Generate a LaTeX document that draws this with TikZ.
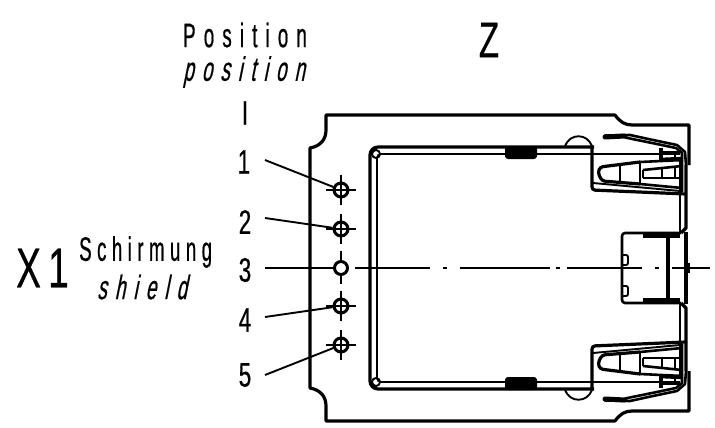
\documentclass[tikz,border=0pt]{standalone}
\usepackage{fontspec}
\newfontfamily\isofont[FakeStretch=0.55,LetterSpace=24,FakeBold=0.5]{Liberation Sans}
\newfontfamily\isotight[FakeStretch=0.55,LetterSpace=16,FakeBold=0.5]{Liberation Sans}
\newfontfamily\isodigit[FakeStretch=0.66,FakeBold=0.5]{Liberation Sans}
\newfontfamily\isoslant[FakeStretch=0.55,FakeSlant=0.2,LetterSpace=24,FakeBold=0.5]{Liberation Sans}
\newcommand{\fs}[1]{\fontsize{#1}{#1}\selectfont}
\tikzset{
  heavy/.style={line width=3.2pt,line join=round},
  mid/.style={line width=2.6pt,line join=round},
  fine/.style={line width=1.9pt,line join=round},
  leader/.style={line width=1.9pt},
  axis/.style={line width=1.8pt},
  hole/.style={circle,draw,line width=3pt,minimum size=14pt,inner sep=0pt},
  lab/.style={inner sep=0pt,font=\isodigit\fs{34}},
  half/.pic={
    % outer contour
    \draw[heavy] (310,268) -- (310,148) .. controls (321,146) and (326,139) .. (326,130) -- (326,115) -- (615,115) .. controls (620,122) and (625,125) .. (632,125) -- (689,125) -- (689,165);
    % frame
    \draw[heavy,rounded corners=8pt] (370,268) -- (370,147) -- (594,147);
    \draw[fine,rounded corners=4pt] (377,268) -- (377,154) -- (680,154);
    \draw[fine] (376,154) circle (4);
    \draw[line width=2.6pt] (371,155) .. controls (371,152) and (373,149) .. (376,149);
    % tab
    \fill[rounded corners=3pt] (505,146) rectangle (537,159);
    % semicircle
    \draw[fine] (565,146) .. controls (570,133) and (587,133) .. (592,146);
    % latch housing
    \draw[heavy,rounded corners=3pt] (592,146) -- (592,190) -- (686,194);
    \draw[fine] (593,183) -- (680,191);
    % spring finger
    \draw[line width=5pt,line cap=round] (605,137) -- (625,136);
    \draw[mid,line cap=round] (605,135.5) -- (630,135) -- (653,140) -- (677,145) -- (685,152) -- (686,165);
    \draw[mid] (625,137.5) -- (652,143) -- (676,148) -- (682,153) -- (682,192);
    % catch
    \draw[mid] (640,162) -- (683,160);
    \draw[heavy,rounded corners=3pt] (640,162) -- (600,167) -- (598,173) -- (602,181) -- (640,184);
    \draw[mid] (640,184) -- (682,188);
    \draw[fine] (620,165) -- (620,183);
    \draw[mid] (640,162) -- (640,185);
    \draw[mid] (643,170) -- (682,166);
    \draw[mid] (643,178) -- (682,178);
    \draw[fine] (643,170) -- (643,178);
    \draw[fine] (662,168) -- (662,178);
    \draw[fine] (675,167) -- (675,178);
    % box above the catch
    \draw[heavy] (661,148) -- (661,160);
    \draw[fine] (661,152) -- (680,152);
    \draw[mid] (661,159) -- (683,158);
    \draw[fine] (675,152) -- (675,158);
    % right walls
    \draw[heavy] (686,165) -- (686,228) -- (681,233);
    \draw[heavy] (686,232) -- (686,268);
    \draw[fine] (680,160) -- (680,232);
    % cap
    \draw[mid,rounded corners=3pt] (681,233) -- (622,233) -- (622,268);
    \draw[line width=3.6pt] (643,236) -- (680,236);
    \draw[heavy] (668,237) -- (668,268);
  }
}
\begin{document}
\begin{tikzpicture}[x=1pt,y=-1pt]
\useasboundingbox (0,0) rectangle (715,428);
\fill[white] (0,0) rectangle (715,428);
\pic at (0,0) {half};
\pic[yscale=-1] at (0,536) {half};
% bumps of the cap
\draw[fine,rounded corners=2pt] (622,255) -- (628,255) -- (628,265) -- (622,265);
\draw[fine,rounded corners=2pt] (622,286) -- (628,286) -- (628,296) -- (622,296);
\draw[line width=3.6pt] (688,263) -- (688,273);
% axis
\node[hole] (h1) at (341,190) {};
\node[hole] (h2) at (341,229) {};
\node[hole,minimum size=13pt] (h3) at (341,268) {};
\node[hole] (h4) at (341,306) {};
\node[hole] (h5) at (341,345) {};
\foreach \n in {1,2,4,5}{
  \draw[fine] (h\n.center) ++(-15,0) -- ++(30,0);
  \draw[fine] (h\n.center) ++(0,-15) -- ++(0,30);
}
\draw[fine] (h3.center) ++(0,-17) -- ++(0,9);
\draw[fine] (h3.center) ++(0,8) -- ++(0,8);
\coordinate (a1) at (265,268);
\coordinate (a2) at (710,268);
\draw[axis] (a1) -- (h3.west);
\draw[axis] (355,268) -- (430,268);
\draw[axis] (443,268) -- (447,268);
\draw[axis] (460,268) -- (550,268);
\draw[axis] (556,268) -- (560,268);
\draw[axis] (567,268) -- (642,268);
\draw[axis] (655,268) -- (659,268);
\draw[axis] (672,268) -- (a2);
% texts
\node[lab,anchor=west,font=\isofont\fs{34}] (tp) at (183,35) {Position};
\node[lab,anchor=west,font=\isoslant\fs{34}] (tq) at (183,72) {position};
\node[lab,font=\isodigit\fs{50}] (tz) at (489,40) {Z};
\node[lab] (n0) at (245,113) {I};
\node[lab] (n1) at (244,162) {1};
\node[lab] (n2) at (245,222) {2};
\node[lab] (n3) at (245,270) {3};
\node[lab] (n4) at (245,320) {4};
\node[lab] (n5) at (245,375) {5};
\node[lab,anchor=west,font=\isodigit\fs{56}] (tx) at (16,268) {X};
\node[lab,anchor=west,font=\isodigit\fs{56}] (ty) at (48,268) {1};
\node[lab,anchor=west,font=\isotight\fs{34}] (ts) at (79,252) {Schirmung};
\node[lab,anchor=west,font=\isoslant\fs{34}] (tt) at (97,287) {shield};
% leaders
\coordinate (s1) at (265,160);
\coordinate (s2) at (265,218);
\coordinate (s4) at (265,317);
\coordinate (s5) at (265,375);
\draw[leader] (s1) -- (h1);
\draw[leader] (s2) -- (h2);
\draw[leader] (s4) -- (h4);
\draw[leader] (s5) -- (h5);
\end{tikzpicture}
\end{document}
